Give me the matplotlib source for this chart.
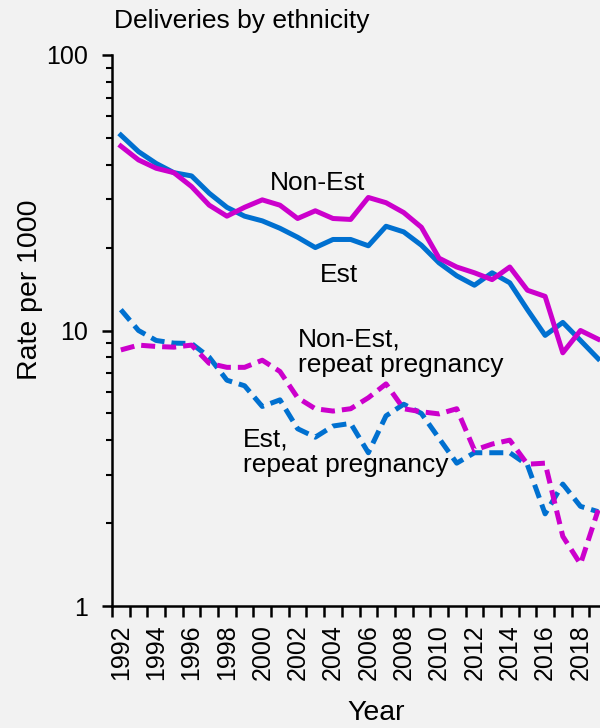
import matplotlib as mpl
import matplotlib.pyplot as plt

mpl.use('Agg')
plt.rcParams['font.family'] = ['Liberation Sans', 'DejaVu Sans']

years = list(range(1992, 2020))

est = [51.2, 44.6, 40.4, 37.4, 36.4, 31.5, 28.0, 26.0, 25.0, 23.5,
       21.8, 20.0, 21.4, 21.4, 20.3, 23.9, 22.8, 20.4, 17.6, 15.8,
       14.6, 16.2, 14.9, 11.9, 9.6, 10.7, 9.2, 7.9]
non_est = [46.7, 41.6, 38.8, 37.4, 33.3, 28.5, 26.0, 28.0, 29.8, 28.5,
           25.5, 27.2, 25.5, 25.3, 30.4, 29.1, 26.8, 23.7, 18.3, 17.0,
           16.2, 15.3, 17.0, 14.0, 13.3, 8.3, 10.0, 9.3]
est_repeat = [11.9, 10.0, 9.2, 9.0, 8.97, 8.0, 6.6, 6.3, 5.3, 5.6,
              4.4, 4.1, 4.5, 4.6, 3.6, 4.9, 5.4, 5.0, 4.06, 3.3,
              3.6, 3.6, 3.6, 3.25, 2.16, 2.77, 2.3, 2.2]
non_est_repeat = [8.5, 8.85, 8.75, 8.7, 8.85, 7.6, 7.35, 7.35, 7.8, 7.1,
                  5.7, 5.2, 5.1, 5.2, 5.7, 6.4, 5.2, 5.07, 4.98, 5.2,
                  3.68, 3.87, 4.0, 3.27, 3.3, 1.79, 1.42, 2.23]

BLUE = '#0070D0'
PINK = '#CC00CC'
BG = '#F2F2F2'

W, H = 600, 728
fig = plt.figure(figsize=(W / 100, H / 100), dpi=100, facecolor=BG)
ax = fig.add_axes([112 / W, 1 - 606 / H, (607 - 112) / W, (606 - 55) / H])
ax.set_facecolor(BG)

def px(x, y):
    return x / W, 1 - y / H

lw = 3.6
ax.plot(years, est, color=BLUE, lw=lw)
ax.plot(years, non_est, color=PINK, lw=lw)
ax.plot(years, est_repeat, color=BLUE, lw=lw, linestyle=(0, (2.8, 1.4)))
ax.plot(years, non_est_repeat, color=PINK, lw=lw, linestyle=(0, (2.8, 1.4)))

ax.set_yscale('log')
ax.set_ylim(1, 100)
ax.set_xlim(1991.5, 2019.5)

ax.set_yticks([1, 10, 100])
ax.set_yticklabels(['1', '10', '100'])
ax.tick_params(axis='y', which='major', length=7, width=1.8, pad=10, labelsize=18)
ax.tick_params(axis='y', which='minor', length=4, width=1.5)
ax.yaxis.set_minor_formatter(mpl.ticker.NullFormatter())

ax.set_xticks(years[::2])
ax.set_xticklabels([str(y) for y in years[::2]], rotation=90)
ax.set_xticks([y - 0.5 for y in years] + [2019.5], minor=True)
ax.tick_params(axis='x', which='major', length=0, pad=13, labelsize=18)
ax.tick_params(axis='x', which='minor', length=8, width=1.8)

for s in ['top', 'right']:
    ax.spines[s].set_visible(False)
for s in ['left', 'bottom']:
    ax.spines[s].set_linewidth(1.8)

fig.text(*px(30, 290), 'Rate per 1000', rotation=90, fontsize=20.5, ha='center', va='center')
fig.text(*px(376, 713), 'Year', fontsize=20.5, ha='center', va='center')
fig.text(*px(114, 28), 'Deliveries by ethnicity', fontsize=19, ha='left', va='baseline')

fig.text(*px(270, 183), 'Non-Est', fontsize=19, ha='left', va='center')
fig.text(*px(320, 275), 'Est', fontsize=19, ha='left', va='center')
fig.text(*px(298, 352), 'Non-Est,\nrepeat pregnancy', fontsize=19, ha='left', va='center',
         linespacing=1.1)
fig.text(*px(243, 452), 'Est,\nrepeat pregnancy', fontsize=19, ha='left', va='center',
         linespacing=1.1)

fig.savefig('out.png', dpi=100, facecolor=BG)
